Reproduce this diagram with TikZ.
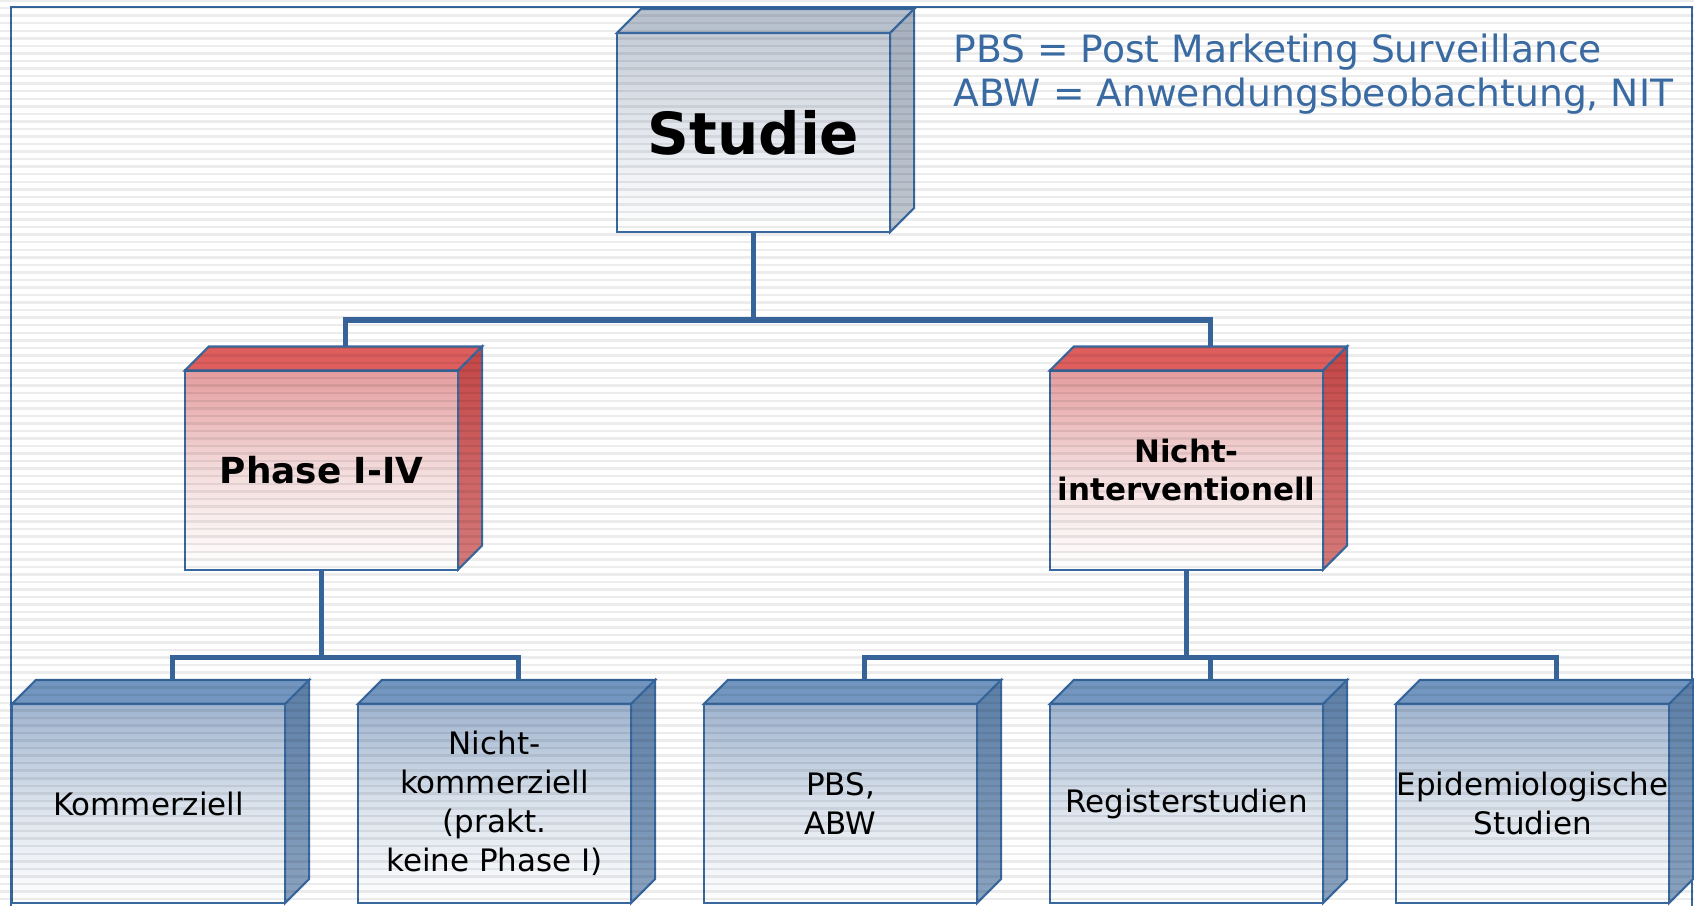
\documentclass[tikz,border=0pt]{standalone}
\usepackage{fontspec}
\setmainfont{DejaVu Sans}
\usetikzlibrary{positioning}
\definecolor{edgeblue}{RGB}{56,104,158}
\definecolor{linkblue}{RGB}{54,100,152}
\definecolor{legblue}{RGB}{58,106,162}
\definecolor{gfront}{RGB}{196,204,215}
\definecolor{gmid}{RGB}{228,232,238}
\definecolor{gtop}{RGB}{184,194,206}
\definecolor{gside}{RGB}{166,176,190}
\definecolor{rfront}{RGB}{228,156,158}
\definecolor{rmid}{RGB}{244,220,220}
\definecolor{rtop}{RGB}{222,94,94}
\definecolor{rside}{RGB}{196,70,70}
\definecolor{bfront}{RGB}{160,180,207}
\definecolor{bmid}{RGB}{218,226,236}
\definecolor{btop}{RGB}{114,150,192}
\definecolor{bside}{RGB}{92,126,166}
\newcommand{\dep}{24}
\tikzset{
  every picture/.style={x=0.01cm, y=-0.01cm, line join=miter},
  % Vorderseiten der Kaesten
  box/.style={draw=edgeblue, line width=0.6pt, inner sep=0pt, outer sep=0pt,
    minimum width=2.73cm, minimum height=1.99cm, align=center, text=black},
  greybox/.style={box, top color=gfront, bottom color=white, middle color=gmid},
  redbox/.style={box, top color=rfront, bottom color=white, middle color=rmid},
  bluebox/.style={box, top color=bfront, bottom color=white, middle color=bmid},
  face/.style={draw=edgeblue, line width=0.6pt},
  % Schrift
  txtbig/.style={font=\fontsize{16.5}{20}\selectfont\bfseries},
  txtphase/.style={font=\fontsize{10.2}{12.5}\selectfont\bfseries},
  txtnicht/.style={font=\fontsize{8.8}{10.8}\selectfont\bfseries},
  txtleaf/.style={font=\fontsize{8.8}{11.1}\selectfont},
  legendtxt/.style={text=legblue, inner sep=0pt, font=\fontsize{10.7}{12.5}\selectfont},
  % Linien
  link/.style={draw=linkblue, line width=1.6pt},
  stripe/.style={black, opacity=0.075, line width=0.7pt},
}
\begin{document}
\begin{tikzpicture}
  \useasboundingbox (0,0) rectangle (1694,905);
  \fill[white] (0,0) rectangle (1694,905);
  \draw[edgeblue, line width=0.6pt] (11,7) rectangle (1692,930);
  % Kaesten
  \node[greybox, txtbig] (studie) at (753.5,132.5) {Studie};
  \node[redbox, txtphase] (phase) at (321.5,470) {Phase I-IV};
  \node[redbox, txtnicht] (nicht) at (1186.5,470) {Nicht-\\interventionell};
  \node[bluebox, txtleaf] (komm) at (148.5,803.5) {Kommerziell};
  \node[bluebox, txtleaf] (nkomm) at (494.5,803.5) {Nicht-\\kommerziell\\(prakt.\\keine Phase I)};
  \node[bluebox, txtleaf] (pbs) at (840.5,803.5) {PBS,\\ABW};
  \node[bluebox, txtleaf] (reg) at (1186.5,803.5) {Registerstudien};
  \node[bluebox, txtleaf] (epi) at (1532.5,803.5) {Epidemiologische\\Studien};
  % Deckel und Seitenflaechen
  \foreach \n/\t/\s in {studie/gtop/gside, phase/rtop/rside, nicht/rtop/rside,
      komm/btop/bside, nkomm/btop/bside, pbs/btop/bside, reg/btop/bside, epi/btop/bside}{
    \filldraw[face, fill=\t] (\n.north west) -- ++(\dep,-\dep)
      -- ([shift={(\dep,-\dep)}]\n.north east) -- (\n.north east) -- cycle;
    \path[face, top color=\s, bottom color=\s!72!white] (\n.north east)
      -- ([shift={(\dep,-\dep)}]\n.north east) -- ([shift={(\dep,-\dep)}]\n.south east)
      -- (\n.south east) -- cycle;
    \coordinate (\n-top) at ([shift={(\dep,-\dep)}]\n.north);
  }
  % Streifenmuster
  \foreach \k in {0,...,119}
    \draw[stripe] (0,{0.6+7.55*\k}) -- (1694,{0.6+7.55*\k});
  % Verbindungen
  \coordinate (j1) at ([shift={(0,88)}]studie.south);
  \coordinate (j2) at ([shift={(0,88)}]phase.south);
  \coordinate (j3) at ([shift={(0,88)}]nicht.south);
  \draw[link] (studie.south) -- (j1);
  \draw[link] (phase-top) |- (j1) -| (nicht-top);
  \draw[link] (phase.south) -- (j2);
  \draw[link] (komm-top) |- (j2) -| (nkomm-top);
  \draw[link] (nicht.south) -- (j3);
  \draw[link] (pbs-top) |- (j3) -| (epi-top);
  \draw[link] (reg-top) -- (reg-top |- j3);
  % Legende
  \node[legendtxt, anchor=base west] (pbsdef) at (953,62) {PBS = Post Marketing Surveillance};
  \node[legendtxt, anchor=base west] (abwdef) at (953,106) {ABW = Anwendungsbeobachtung, NIT};
\end{tikzpicture}
\end{document}
